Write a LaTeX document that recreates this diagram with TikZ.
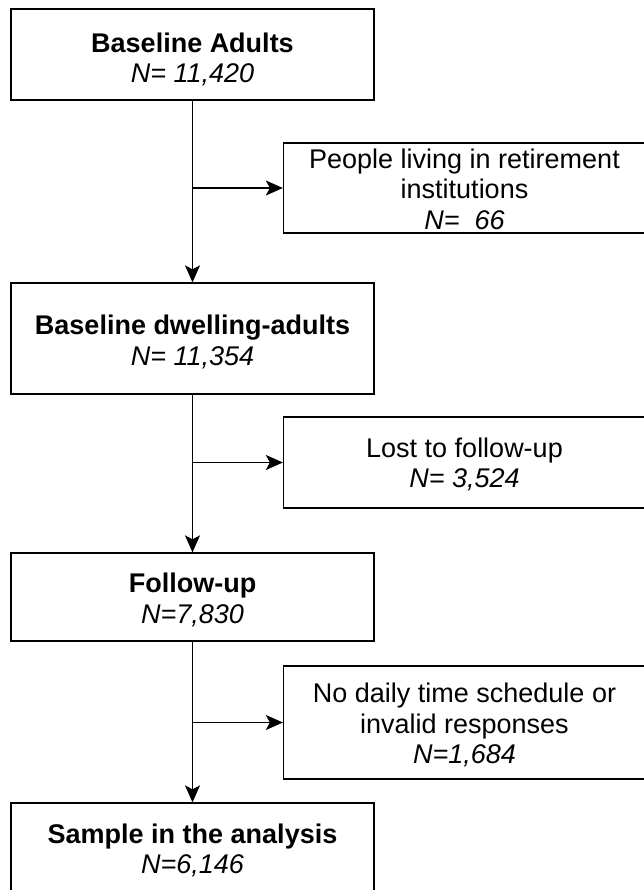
\documentclass[tikz,border=0pt]{standalone}
\usepackage{fontspec}
\setmainfont{Liberation Sans}
\usetikzlibrary{arrows.meta}
\newcommand{\firstline}[1]{\rule{0pt}{#1}}
\begin{document}
\begin{tikzpicture}[x=1pt,y=1pt,
  box/.style={draw, line width=1.3pt, align=center, inner sep=0pt,
    font=\fontsize{27}{30.5}\selectfont},
  lbox/.style={box, minimum width=363pt},
  rbox/.style={box, minimum width=362pt},
  arr/.style={line width=1.3pt, -{Stealth[length=17pt,width=15pt,inset=4pt]}}]
\useasboundingbox (0,0) rectangle (643,-890);
\node[lbox, minimum height=91pt] (b1) at (192.5,-54.5) {\firstline{29.5pt}\bfseries Baseline Adults\\\itshape N= 11,420};
\node[lbox, minimum height=111pt] (b2) at (192.5,-338.5) {\firstline{26.5pt}\bfseries Baseline dwelling-adults\\\itshape N= 11,354};
\node[lbox, minimum height=88pt] (b3) at (192.5,-597) {\firstline{25.5pt}\bfseries Follow-up\\\itshape N=7,830};
\node[lbox, minimum height=89pt] (b4) at (192.5,-847.5) {\firstline{25.5pt}\bfseries Sample in the analysis\\\itshape N=6,146};
\node[rbox, minimum height=90pt] (r1) at (464.5,-188) {\firstline{22pt}People living in retirement\\institutions\\\itshape N=~ 66};
\node[rbox, minimum height=91pt] (r2) at (464.5,-462.5) {\firstline{23.5pt}Lost to follow-up\\\itshape N= 3,524};
\node[rbox, minimum height=113pt] (r3) at (464.5,-722.5) {\firstline{25pt}No daily time schedule or\\invalid responses\\\itshape N=1,684};
\draw[arr] (b1.south) -- (b2.north);
\draw[arr] (b2.south) -- (b3.north);
\draw[arr] (b3.south) -- (b4.north);
\draw[arr] (b1.south |- r1.west) -- (r1.west);
\draw[arr] (b2.south |- r2.west) -- (r2.west);
\draw[arr] (b3.south |- r3.west) -- (r3.west);
\end{tikzpicture}
\end{document}
